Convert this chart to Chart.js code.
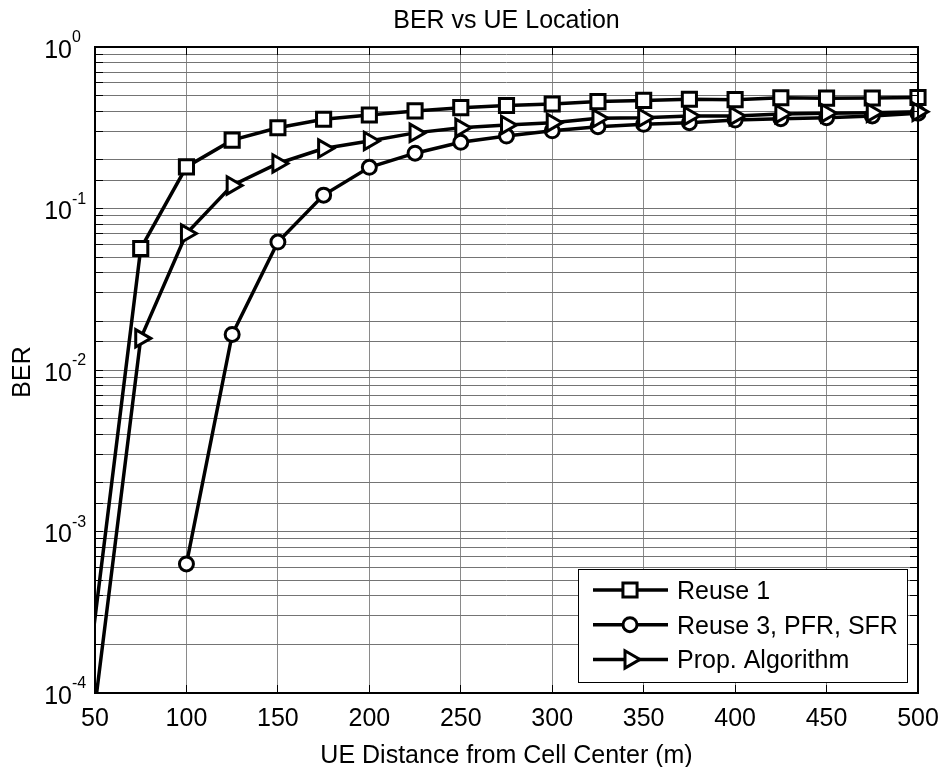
<!DOCTYPE html>
<html>
<head>
<meta charset="utf-8">
<title>BER vs UE Location</title>
<script src="https://cdn.jsdelivr.net/npm/chart.js@4.4.1/dist/chart.umd.min.js"></script>
<style>
  html, body { margin: 0; padding: 0; background: #fff; }
  #wrap { width: 944px; height: 767px; }
</style>
</head>
<body>
<div id="wrap"><canvas id="berChart" width="944" height="767"></canvas></div>
<script>
// UE distance from cell center (m). 25 sits left of the axis, it only feeds the clipped start of the curves
const distance = [25, 50, 75, 100, 125, 150, 175, 200, 225, 250, 275, 300, 325, 350, 375, 400, 425, 450, 475, 500];

// BER per scheme (null = no sample)
const reuse1   = [1.5e-6, null, 0.0565, 0.181, 0.265, 0.316, 0.357, 0.379, 0.402, 0.421, 0.434, 0.444, 0.459, 0.467, 0.475, 0.472, 0.485, 0.482, 0.483, 0.487];
const reuse3   = [null, null, null, 6.3e-4, 0.0166, 0.062, 0.121, 0.180, 0.220, 0.257, 0.281, 0.303, 0.321, 0.332, 0.340, 0.353, 0.360, 0.365, 0.374, 0.389];
const propAlgo = [null, 8.3e-5, 0.0157, 0.0700, 0.139, 0.190, 0.235, 0.262, 0.294, 0.316, 0.329, 0.340, 0.362, 0.365, 0.374, 0.374, 0.385, 0.389, 0.392, 0.397];

const seriesNames = ["Reuse 1", "Reuse 3, PFR, SFR", "Prop. Algorithm"];

// axis ticks
const xTicks = [50, 100, 150, 200, 250, 300, 350, 400, 450, 500];
const yExponents = [-4, -3, -2, -1, 0];

const fontFamily = '"Liberation Sans", Arial, Helvetica, sans-serif';

const markers = [
    { pointStyle: "rect", radius: 10, rotation: 0 },
    { pointStyle: "circle", radius: 7, rotation: 0 },
    { pointStyle: "triangle", radius: 10, rotation: 90 }
];

function toPoints(values) {
    return distance.map((d, i) => ({ x: d, y: values[i] }));
}

function makeDataset(label, values, marker, order) {
    return {
        label: label,
        data: toPoints(values),
        borderColor: "#000",
        borderWidth: 3.5,
        pointStyle: marker.pointStyle,
        pointRadius: marker.radius,
        pointRotation: marker.rotation,
        pointBorderWidth: 3,
        pointBorderColor: "#000",
        pointBackgroundColor: "#fff",
        tension: 0,
        spanGaps: true,
        order: order,
        clip: { left: 0, top: 0, right: 14, bottom: 0 }
    };
}

// frame, inward ticks, labels and legend in the MATLAB figure style
const matlabAxes = {
    id: "matlabAxes",
    afterDraw(chart) {
        const ctx = chart.ctx;
        const area = chart.chartArea;
        const xs = chart.scales.x;
        const ys = chart.scales.y;
        const left = area.left, right = area.right, top = area.top, bottom = area.bottom;

        ctx.save();

        // tick marks pointing inwards on all four sides
        ctx.strokeStyle = "#000";
        ctx.lineWidth = 1;
        ctx.beginPath();
        xTicks.forEach(v => {
            let px = Math.round(xs.getPixelForValue(v) - 0.5) + 0.5;
            ctx.moveTo(px, bottom); ctx.lineTo(px, bottom - 8);
            ctx.moveTo(px, top); ctx.lineTo(px, top + 8);
        });
        ys.ticks.forEach(t => {
            let py = Math.round(ys.getPixelForValue(t.value) - 0.5) + 0.5;
            ctx.moveTo(left, py); ctx.lineTo(left + 8, py);
            ctx.moveTo(right, py); ctx.lineTo(right - 8, py);
        });
        ctx.stroke();

        // axes box
        ctx.lineWidth = 2;
        ctx.strokeRect(left, top, right - left, bottom - top);

        ctx.fillStyle = "#000";
        ctx.textBaseline = "alphabetic";

        // x tick labels
        ctx.font = "25px " + fontFamily;
        ctx.textAlign = "center";
        xTicks.forEach(v => ctx.fillText(String(v), xs.getPixelForValue(v), bottom + 33));

        // y tick labels as powers of ten
        yExponents.forEach(e => {
            let py = ys.getPixelForValue(Math.pow(10, e));
            ctx.font = "25px " + fontFamily;
            ctx.textAlign = "right";
            ctx.fillText("10", left - 23, py + 10.5);
            ctx.font = "16px " + fontFamily;
            ctx.textAlign = "left";
            ctx.fillText(String(e), left - 23, py - 5);
        });

        // titles
        ctx.font = "25px " + fontFamily;
        ctx.textAlign = "center";
        ctx.fillText("BER vs UE Location", (left + right) / 2, 28);
        ctx.fillText("UE Distance from Cell Center (m)", (left + right) / 2, bottom + 70);

        ctx.save();
        ctx.translate(30, (top + bottom) / 2 + 2);
        ctx.rotate(-Math.PI / 2);
        ctx.fillText("BER", 0, 0);
        ctx.restore();

        // legend box, lower right
        const box = { x: 578, y: 569, w: 329, h: 113 };
        ctx.fillStyle = "#fff";
        ctx.fillRect(box.x, box.y, box.w, box.h);
        ctx.strokeStyle = "#000";
        ctx.lineWidth = 1;
        ctx.strokeRect(box.x + 0.5, box.y + 0.5, box.w, box.h);

        seriesNames.forEach((name, i) => {
            let rowY = box.y + 21 + i * 34.7;
            ctx.strokeStyle = "#000";
            ctx.lineWidth = 3.5;
            ctx.beginPath();
            ctx.moveTo(box.x + 15, rowY);
            ctx.lineTo(box.x + 90, rowY);
            ctx.stroke();

            ctx.fillStyle = "#fff";
            ctx.lineWidth = 3;
            Chart.helpers.drawPoint(ctx, {
                pointStyle: markers[i].pointStyle,
                radius: markers[i].radius,
                rotation: markers[i].rotation,
                borderWidth: 3
            }, box.x + 52, rowY);

            ctx.fillStyle = "#000";
            ctx.font = "25px " + fontFamily;
            ctx.textAlign = "left";
            ctx.fillText(name, box.x + 99, rowY + 9);
        });

        ctx.restore();
    }
};

new Chart(document.getElementById("berChart").getContext("2d"), {
    type: "line",
    data: {
        datasets: [
            makeDataset(seriesNames[0], reuse1, markers[0], 3),
            makeDataset(seriesNames[1], reuse3, markers[1], 2),
            makeDataset(seriesNames[2], propAlgo, markers[2], 1)
        ]
    },
    options: {
        responsive: false,
        devicePixelRatio: 1,
        animation: false,
        layout: {
            padding: { left: 95, top: 47, right: 26, bottom: 74 }
        },
        plugins: {
            legend: { display: false },
            title: { display: false },
            tooltip: { enabled: false }
        },
        scales: {
            x: {
                type: "linear",
                min: 50,
                max: 500,
                ticks: { display: false, stepSize: 50 },
                grid: { color: "#8a8a8a", lineWidth: 1, drawTicks: false },
                border: { display: false },
                afterFit: scale => { scale.height = 0; }
            },
            y: {
                type: "logarithmic",
                min: 1e-4,
                max: 1,
                ticks: { display: false, autoSkip: false },
                grid: { color: "#747474", lineWidth: 1, drawTicks: false },
                border: { display: false },
                afterFit: scale => { scale.width = 0; }
            }
        }
    },
    plugins: [matlabAxes]
});
</script>
</body>
</html>
